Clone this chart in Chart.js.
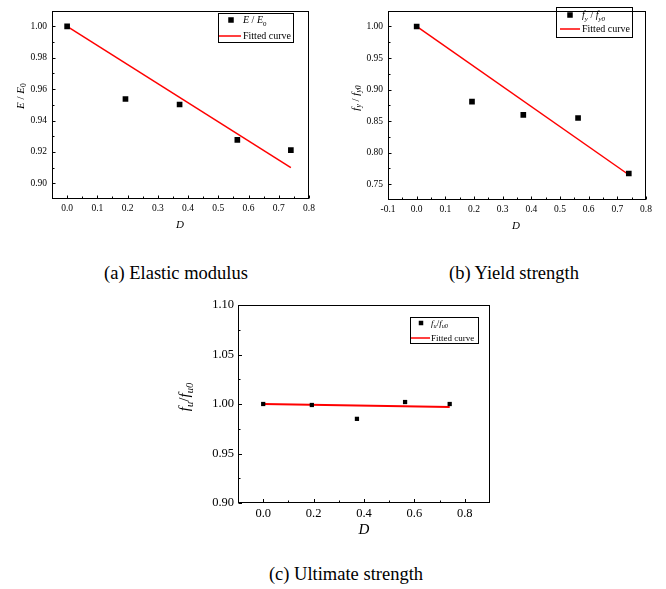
<!DOCTYPE html>
<html>
<head>
<meta charset="utf-8">
<script src="https://cdn.jsdelivr.net/npm/chart.js@4.4.1/dist/chart.umd.min.js"></script>
<style>
  html, body { margin: 0; padding: 0; background: #fff; }
  #wrap { position: relative; width: 666px; height: 589px; background: #fff; overflow: hidden; }
  .panel { position: absolute; }
  .cap {
    position: absolute; white-space: nowrap; color: #000;
    font-family: "Liberation Serif", "Times New Roman", serif;
    font-size: 18.5px; line-height: 20px; transform: translateX(-50%);
  }
</style>
</head>
<body>
<div id="wrap">
  <div class="panel" style="left:0;top:0;width:333px;height:245px"><canvas id="chartA"></canvas></div>
  <div class="panel" style="left:333px;top:0;width:333px;height:245px"><canvas id="chartB"></canvas></div>
  <div class="panel" style="left:160px;top:290px;width:340px;height:260px"><canvas id="chartC"></canvas></div>
  <div class="cap" style="left:176px;top:263px">(a) Elastic modulus</div>
  <div class="cap" style="left:514px;top:263px">(b) Yield strength</div>
  <div class="cap" style="left:346px;top:564px">(c) Ultimate strength</div>
</div>
<script>
// damage variable D of the specimens
const damageD = [0, 0.193, 0.372, 0.563, 0.740];

// measured ratios
const elasticRatio = [1.000, 0.9537, 0.9502, 0.9277, 0.9211];
const yieldRatio = [1.000, 0.881, 0.860, 0.855, 0.767];
const ultimateRatio = [1.000, 0.999, 0.985, 1.002, 1.000];

// fitted lines (end points)
const fitD = [0, 0.740];
const elasticFit = [1.000, 0.910];
const yieldFit = [1.000, 0.765];
const ultimateFit = [1.000, 0.997];

// tick labels
const xTicksA = [0, 0.1, 0.2, 0.3, 0.4, 0.5, 0.6, 0.7, 0.8];
const yTicksA = [0.90, 0.92, 0.94, 0.96, 0.98, 1.00];
const xTicksB = [-0.1, 0, 0.1, 0.2, 0.3, 0.4, 0.5, 0.6, 0.7, 0.8];
const yTicksB = [0.75, 0.80, 0.85, 0.90, 0.95, 1.00];
const xTicksC = [0, 0.2, 0.4, 0.6, 0.8];
const yTicksC = [0.90, 0.95, 1.00, 1.05, 1.10];

const SERIF = '"Liberation Serif", "Times New Roman", serif';
Chart.defaults.font.family = SERIF;
Chart.defaults.color = '#000';

// text with italic / subscript pieces: [text, style] style = i, r, si, sr
function richWidth(ctx, parts, size) {
  let w = 0;
  parts.forEach(([t, s]) => {
    const sub = s[0] === 's';
    ctx.font = (s.endsWith('i') ? 'italic ' : '') + (sub ? size * 0.7 : size) + 'px ' + SERIF;
    w += ctx.measureText(t).width;
  });
  return w;
}
function drawRich(ctx, parts, x, y, size) {
  ctx.textAlign = 'left';
  ctx.textBaseline = 'alphabetic';
  let cx = x;
  parts.forEach(([t, s]) => {
    const sub = s[0] === 's';
    ctx.font = (s.endsWith('i') ? 'italic ' : '') + (sub ? size * 0.7 : size) + 'px ' + SERIF;
    ctx.fillText(t, cx, y + (sub ? size * 0.25 : 0));
    cx += ctx.measureText(t).width;
  });
}

function minorsOf(major, min, max) {
  const step = major[1] - major[0];
  const out = [];
  for (let i = -1; i < major.length; i++) {
    const v = (i < 0 ? major[0] - step / 2 : major[i] + step / 2);
    if (v > min + 1e-9 && v < max - 1e-9) out.push(v);
  }
  return out;
}

const decor = {
  id: 'decor',
  afterDraw(chart, args, o) {
    const ctx = chart.ctx;
    const a = chart.chartArea;
    const xs = chart.scales.x, ys = chart.scales.y;
    ctx.save();
    ctx.strokeStyle = '#000';
    ctx.lineWidth = 1;
    const L = Math.round(a.left) + 0.5, R = Math.round(a.right) - 0.5;
    const T = Math.round(a.top) + 0.5, B = Math.round(a.bottom) - 0.5;
    ctx.strokeRect(L, T, R - L, B - T);
    // inward ticks on left and bottom
    ctx.beginPath();
    xs.ticks.forEach(t => { const p = Math.round(xs.getPixelForValue(t.value)) + 0.5; ctx.moveTo(p, B); ctx.lineTo(p, B - o.major); });
    minorsOf(xs.ticks.map(t => t.value), xs.min, xs.max).forEach(v => { const p = Math.round(xs.getPixelForValue(v)) + 0.5; ctx.moveTo(p, B); ctx.lineTo(p, B - o.minor); });
    ys.ticks.forEach(t => { const p = Math.round(ys.getPixelForValue(t.value)) + 0.5; ctx.moveTo(L, p); ctx.lineTo(L + o.major, p); });
    minorsOf(ys.ticks.map(t => t.value), ys.min, ys.max).forEach(v => { const p = Math.round(ys.getPixelForValue(v)) + 0.5; ctx.moveTo(L, p); ctx.lineTo(L + o.minor, p); });
    ctx.stroke();

    ctx.fillStyle = '#000';
    // x title
    const xw = richWidth(ctx, o.xTitle, o.titleSize);
    drawRich(ctx, o.xTitle, o.xTitlePos[0] - xw / 2, o.xTitlePos[1], o.titleSize);
    // y title rotated
    ctx.save();
    ctx.translate(o.yTitlePos[0], o.yTitlePos[1]);
    ctx.rotate(-Math.PI / 2);
    const yw = richWidth(ctx, o.yTitle, o.titleSize);
    drawRich(ctx, o.yTitle, -yw / 2, o.titleSize * 0.33, o.titleSize);
    ctx.restore();

    // legend
    const lg = o.legend;
    ctx.lineWidth = 1;
    ctx.strokeStyle = '#000';
    ctx.strokeRect(lg.box[0] + 0.5, lg.box[1] + 0.5, lg.box[2], lg.box[3]);
    ctx.fillStyle = '#000';
    ctx.fillRect(lg.marker - lg.ms / 2, lg.rows[0] - lg.ms / 2, lg.ms, lg.ms);
    drawRich(ctx, o.yTitle, lg.textX, lg.rows[0] + lg.size * 0.33, lg.size);
    ctx.strokeStyle = '#ff0000';
    ctx.lineWidth = 1.5;
    ctx.beginPath();
    ctx.moveTo(lg.line[0], lg.rows[1]);
    ctx.lineTo(lg.line[1], lg.rows[1]);
    ctx.stroke();
    drawRich(ctx, [['Fitted curve', 'r']], lg.textX, lg.rows[1] + lg.size * 0.33, lg.size);
    ctx.restore();
  }
};

function makePanel(id, p) {
  return new Chart(document.getElementById(id), {
    type: 'scatter',
    data: {
      datasets: [{
        label: 'measured',
        data: damageD.map((x, i) => ({ x: x, y: p.values[i] })),
        pointStyle: 'rect',
        pointRadius: p.pointRadius,
        backgroundColor: '#000',
        borderWidth: 0,
        order: 0
      }, {
        label: 'Fitted curve',
        data: fitD.map((x, i) => ({ x: x, y: p.fit[i] })),
        showLine: true,
        borderColor: '#ff0000',
        borderWidth: p.lineWidth,
        pointRadius: 0,
        order: 1
      }]
    },
    options: {
      responsive: true,
      maintainAspectRatio: false,
      animation: false,
      layout: { padding: p.padding },
      plugins: {
        legend: { display: false },
        tooltip: { enabled: false },
        decor: p.decor
      },
      scales: {
        x: {
          type: 'linear', min: p.xRange[0], max: p.xRange[1],
          afterBuildTicks: s => { s.ticks = p.xTicks.map(v => ({ value: v })); },
          afterFit: s => { s.height = p.xHeight; },
          grid: { display: false, drawTicks: false },
          border: { display: false },
          ticks: { padding: p.xPad, font: { size: p.tickSize }, color: '#000', callback: v => v.toFixed(1) }
        },
        y: {
          type: 'linear', min: p.yRange[0], max: p.yRange[1],
          afterBuildTicks: s => { s.ticks = p.yTicks.map(v => ({ value: v })); },
          afterFit: s => { s.width = p.yWidth; },
          grid: { display: false, drawTicks: false },
          border: { display: false },
          ticks: { padding: p.yPad, font: { size: p.tickSize }, color: '#000', callback: v => v.toFixed(2) }
        }
      }
    },
    plugins: [decor]
  });
}

makePanel('chartA', {
  values: elasticRatio, fit: elasticFit,
  xRange: [-0.05, 0.8], yRange: [0.89, 1.01], xTicks: xTicksA, yTicks: yTicksA,
  padding: { top: 2, right: 24, left: 0, bottom: 0 }, xHeight: 46, yWidth: 52,
  xPad: 4, yPad: 5, tickSize: 9.5, pointRadius: 4, lineWidth: 1.5,
  decor: {
    major: 3, minor: 2, titleSize: 11,
    xTitle: [['D', 'i']], xTitlePos: [180, 228],
    yTitle: [['E', 'i'], [' / ', 'r'], ['E', 'i'], ['0', 'sr']], yTitlePos: [20, 96],
    legend: { box: [218, 13, 75, 29], rows: [20, 36], marker: 231, ms: 5.5, line: [219, 241], textX: 243, size: 10 }
  }
});

makePanel('chartB', {
  values: yieldRatio, fit: yieldFit,
  xRange: [-0.1, 0.8], yRange: [0.725, 1.025], xTicks: xTicksB, yTicks: yTicksB,
  padding: { top: 2, right: 20, left: 0, bottom: 0 }, xHeight: 45, yWidth: 55,
  xPad: 4, yPad: 5, tickSize: 9.5, pointRadius: 4, lineWidth: 1.5,
  decor: {
    major: 3, minor: 2, titleSize: 11,
    xTitle: [['D', 'i']], xTitlePos: [183, 229],
    yTitle: [['f', 'i'], ['y', 'si'], [' / ', 'r'], ['f', 'i'], ['y0', 'si']], yTitlePos: [22, 98],
    legend: { box: [223, 7, 76, 30], rows: [15, 29], marker: 237, ms: 5.5, line: [227, 247], textX: 249, size: 10 }
  }
});

makePanel('chartC', {
  values: ultimateRatio, fit: ultimateFit,
  xRange: [-0.1, 0.9], yRange: [0.90, 1.10], xTicks: xTicksC, yTicks: yTicksC,
  padding: { top: 15, right: 10, left: 0, bottom: 0 }, xHeight: 47, yWidth: 78,
  xPad: 3, yPad: 4, tickSize: 12.5, pointRadius: 3, lineWidth: 2,
  decor: {
    major: 3.5, minor: 2, titleSize: 15,
    xTitle: [['D', 'i']], xTitlePos: [204, 244],
    yTitle: [['f', 'i'], ['u', 'si'], ['/', 'r'], ['f', 'i'], ['u0', 'si']], yTitlePos: [24, 107],
    legend: { box: [250, 27, 68, 26], rows: [33, 48], marker: 261, ms: 4.5, line: [251, 270], textX: 271, size: 9 }
  }
});
</script>
</body>
</html>
